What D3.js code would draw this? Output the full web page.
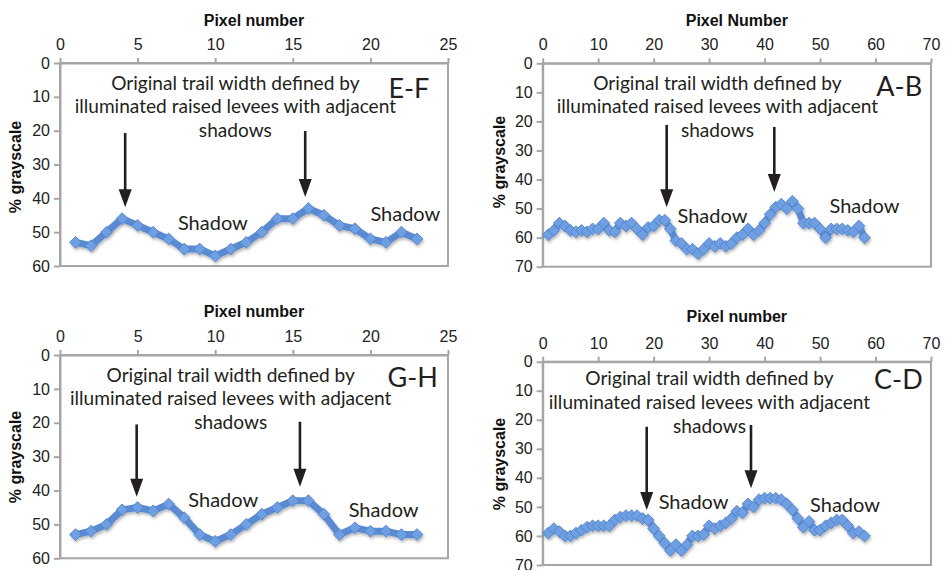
<!DOCTYPE html>
<html>
<head>
<meta charset="utf-8">
<script src="https://cdn.jsdelivr.net/npm/d3@7"></script>
<style>
body { margin: 0; background: #fff; }
svg { display: block; }
.tick text { font-family: Arial, "Liberation Sans", sans-serif; font-size: 16px; fill: #222; }
.axis-title { font-family: Arial, "Liberation Sans", sans-serif; font-size: 16px; font-weight: bold; fill: #111; }
.note { font-family: Lato, "Open Sans", sans-serif; fill: #231f20; }
</style>
</head>
<body>
<svg id="chart" width="952" height="570"></svg>
<script>
// % grayscale along each transect, one value per pixel (pixel 1 .. n)
var grayEF = [53, 54, 50, 46, 48, 50, 52, 55, 55, 57, 55, 53, 50, 46, 46, 43, 45, 48, 49, 52, 53, 50, 52];
var grayGH = [53, 52, 50, 45.7, 45, 46, 44, 48, 53, 55, 53, 50, 47, 45, 43, 43, 47, 53, 51, 52, 52, 53, 53];
var grayAB = [59, 57.5, 55, 56, 57.5, 58, 57.5, 58, 57, 57, 55, 57.5, 58, 55, 56, 55, 57, 59, 56.5, 56,
              54, 54, 57, 61, 62, 64, 64, 65.5, 64, 62, 63, 62, 63, 62, 60, 59, 57, 59, 57.5, 55,
              52, 49.5, 48.5, 50, 47.5, 50, 55, 55, 55, 57, 60, 57, 57, 57, 57.5, 58, 56, 60];
var grayCD = [59, 57.5, 58.5, 60, 60, 59, 58, 57, 56.5, 56.5, 56.5, 56.5, 54.5, 53.5, 53, 53, 53, 54, 54.5, 57.5,
              60, 62.5, 65, 63, 65, 63, 60, 60, 59.5, 56.5, 57.5, 56.5, 55.5, 54, 51.5, 52, 49, 50, 47.5, 47,
              47, 47, 47.5, 49, 51, 54, 57, 55, 58, 58, 56.5, 55.5, 54.5, 54.5, 56.5, 59, 58.5, 60];

var xTicks25 = [0, 5, 10, 15, 20, 25];
var xTicks70 = [0, 10, 20, 30, 40, 50, 60, 70];
var yTicks60 = [0, 10, 20, 30, 40, 50, 60];
var yTicks70 = [0, 10, 20, 30, 40, 50, 60, 70];

var noteLines = ["Original trail width defined by", "illuminated raised levees with adjacent", "shadows"];

// layout of each panel; annotation positions are in data units
var panels = [
  {values: grayEF, tag: "E-F", title: "Pixel number", xMax: 25, xTicks: xTicks25, yMax: 60, yTicks: yTicks60,
   box: [60, 63, 448, 266], titleY: 26, yTitle: [15, 167],
   note: {x: 11.3, y: [8, 14.8, 21.9]}, tagAt: [23.8, 10.3],
   arrows: [[4.2, 20.7, 42.6], [15.8, 20.1, 39.6]], shadows: [[7.6, 49.4], [20, 46.7]]},
  {values: grayAB, tag: "A-B", title: "Pixel Number", xMax: 70, xTicks: xTicks70, yMax: 70, yTicks: yTicks70,
   box: [542.7, 63.3, 931, 266.7], titleY: 26, yTitle: [499, 162],
   note: {x: 31.5, y: [9.1, 17, 25.2]}, tagAt: [68.4, 11.3],
   arrows: [[22.35, 21.2, 49.5], [41.75, 21.9, 44.3]], shadows: [[24.3, 55], [51.7, 51.5]]},
  {values: grayGH, tag: "G-H", title: "Pixel number", xMax: 25, xTicks: xTicks25, yMax: 60, yTicks: yTicks60,
   box: [60, 355, 448, 558.3], titleY: 317, yTitle: [15, 457],
   note: {x: 11.0, y: [7.9, 14.75, 21.8]}, tagAt: [24.35, 9.4],
   arrows: [[4.94, 20.5, 41.8], [15.46, 19.7, 38.9]], shadows: [[8.27, 45], [18.6, 47.9]]},
  {values: grayCD, tag: "C-D", title: "Pixel number", xMax: 70, xTicks: xTicks70, yMax: 70, yTicks: yTicks70,
   box: [542.7, 361.7, 931, 565], titleY: 322, yTitle: [499, 464],
   note: {x: 30.07, y: [8.0, 16.3, 24.4]}, tagAt: [68.5, 9.5],
   arrows: [[18.75, 22.4, 51.1], [37.55, 21.8, 43.6]], shadows: [[20.9, 50.7], [48.2, 51.6]]}
];

var svg = d3.select("#chart");
var frameColor = "#a6a6a6";

// soft shadow under the series, like the spreadsheet style
var defs = svg.append("defs");
defs.append("filter").attr("id", "soft").attr("x", "-10%").attr("y", "-30%").attr("width", "120%").attr("height", "160%")
  .append("feDropShadow").attr("dx", 1).attr("dy", 2).attr("stdDeviation", 1.5)
  .attr("flood-color", "#000").attr("flood-opacity", 0.3);

panels.forEach(drawPanel);

// the source font runs a little narrower than Lato: squeeze it slightly
function squeeze(sel, k) {
  sel.each(function () {
    var w = this.getComputedTextLength();
    d3.select(this).attr("textLength", w * k).attr("lengthAdjust", "spacingAndGlyphs");
  });
}

function drawPanel(p) {
  var g = svg.append("g");
  var x = d3.scaleLinear().domain([0, p.xMax]).range([p.box[0], p.box[2]]);
  var y = d3.scaleLinear().domain([0, p.yMax]).range([p.box[1], p.box[3]]);

  // plot frame
  g.append("rect")
    .attr("x", p.box[0]).attr("y", p.box[1])
    .attr("width", p.box[2] - p.box[0]).attr("height", p.box[3] - p.box[1])
    .attr("fill", "#fff").attr("stroke", frameColor).attr("stroke-width", 2);

  // axes
  var xa = g.append("g")
    .attr("transform", "translate(0," + p.box[1] + ")")
    .call(d3.axisTop(x).tickValues(p.xTicks).tickSize(5).tickSizeOuter(0).tickPadding(8));
  var ya = g.append("g")
    .attr("transform", "translate(" + p.box[0] + ",0)")
    .call(d3.axisLeft(y).tickValues(p.yTicks).tickSize(6).tickSizeOuter(0).tickPadding(4));
  [xa, ya].forEach(function (a) {
    a.select(".domain").attr("stroke", frameColor).attr("stroke-width", 2);
    a.selectAll(".tick line").attr("stroke", frameColor).attr("stroke-width", 2);
  });

  // axis titles
  g.append("text").attr("class", "axis-title")
    .attr("x", (p.box[0] + p.box[2]) / 2).attr("y", p.titleY)
    .attr("text-anchor", "middle").text(p.title);
  g.append("text").attr("class", "axis-title")
    .attr("transform", "translate(" + p.yTitle[0] + "," + p.yTitle[1] + ") rotate(-90)")
    .attr("text-anchor", "middle").attr("dy", "0.35em").text("% grayscale");

  // series
  var series = g.append("g").attr("filter", "url(#soft)");
  series.append("path")
    .datum(p.values)
    .attr("fill", "none")
    .attr("stroke", "#5a8bd2")
    .attr("stroke-width", 7)
    .attr("stroke-linejoin", "round")
    .attr("d", d3.line()
      .x(function (d, i) { return x(i + 1); })
      .y(function (d) { return y(d); }));
  series.selectAll("path.marker")
    .data(p.values)
    .enter()
    .append("path")
    .attr("class", "marker")
    .attr("d", d3.symbol().type(d3.symbolSquare).size(70))
    .attr("transform", function (d, i) {
      return "translate(" + x(i + 1) + "," + y(d) + ") rotate(45)";
    })
    .attr("fill", "#6e9fe2")
    .attr("stroke", "#4f80c6")
    .attr("stroke-width", 0.8);

  // annotation text
  noteLines.forEach(function (line, i) {
    g.append("text").attr("class", "note")
      .attr("x", x(p.note.x)).attr("y", y(p.note.y[i]))
      .attr("text-anchor", "middle").attr("font-size", 20)
      .text(line)
      .call(squeeze, 0.955);
  });
  g.append("text").attr("class", "note")
    .attr("x", x(p.tagAt[0])).attr("y", y(p.tagAt[1]))
    .attr("text-anchor", "end").attr("font-size", 27)
    .text(p.tag);
  p.shadows.forEach(function (s) {
    g.append("text").attr("class", "note")
      .attr("x", x(s[0])).attr("y", y(s[1]))
      .attr("font-size", 20)
      .text("Shadow");
  });

  // arrows
  p.arrows.forEach(function (a) {
    var ax = x(a[0]), top = y(a[1]), tip = y(a[2]);
    g.append("line")
      .attr("x1", ax).attr("x2", ax).attr("y1", top).attr("y2", tip - 16)
      .attr("stroke", "#231f20").attr("stroke-width", 2.6);
    g.append("path")
      .attr("d", "M" + (ax - 6.5) + "," + (tip - 18) + "L" + (ax + 6.5) + "," + (tip - 18) + "L" + ax + "," + tip + "Z")
      .attr("fill", "#231f20");
  });
}
</script>
</body>
</html>
